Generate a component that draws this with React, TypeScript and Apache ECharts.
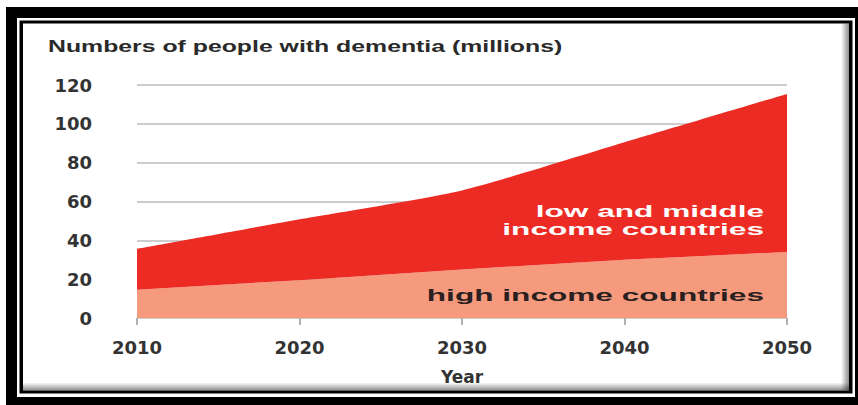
import React, { useEffect, useRef } from "react";
import * as echarts from "echarts";

const years = ["2010", "2020", "2030", "2040", "2050"];
const highIncome = [14.5, 19.5, 25, 30, 34];
const lowMiddleIncome = [21.1, 31.3, 40.7, 60.5, 81.4];
const yTicks = [0, 20, 40, 60, 80, 100, 120];

const titleText = "Numbers of people with dementia (millions)";
const lowLabel1 = "low and middle";
const lowLabel2 = "income countries";
const highLabel = "high income countries";

export default function App() {
  const ref = useRef<HTMLDivElement>(null);
  useEffect(() => {
    if (!ref.current) return;
    const chart = echarts.init(ref.current, undefined, { renderer: "svg" });
    const axisFont = "DejaVu Sans";
    const option: any = {
      animation: false,
      backgroundColor: "#ffffff",
      grid: { left: 137, right: 71, top: 85, bottom: 87 },
      xAxis: {
        type: "category",
        data: years,
        boundaryGap: false,
        name: "Year",
        nameLocation: "middle",
        nameGap: 50,
        nameTextStyle: { color: "#333", fontFamily: axisFont, fontWeight: "bold", fontSize: 17 },
        axisLine: { show: false },
        axisTick: { show: true, length: 7, alignWithLabel: true, lineStyle: { color: "#b0b0b0", width: 2 } },
        splitLine: { show: false },
        axisLabel: {
          color: "#333",
          fontFamily: axisFont,
          fontWeight: "bold",
          fontSize: 18,
          margin: 20,
        },
      },
      yAxis: {
        type: "value",
        min: yTicks[0],
        max: yTicks[yTicks.length - 1],
        interval: 20,
        axisLine: { show: false },
        axisTick: { show: false },
        splitLine: { show: true, lineStyle: { color: "#bdbdbd", width: 1.5 } },
        axisLabel: {
          color: "#333",
          fontFamily: axisFont,
          fontWeight: "bold",
          fontSize: 18,
          margin: 45,
        },
      },
      series: [
        {
          name: "high income countries",
          type: "line",
          stack: "total",
          data: highIncome,
          showSymbol: false,
          lineStyle: { width: 0 },
          areaStyle: { color: "#F69A7D", opacity: 1 },
          itemStyle: { color: "#F69A7D" },
        },
        {
          name: "low and middle income countries",
          type: "line",
          stack: "total",
          smooth: 0.2,
          data: lowMiddleIncome,
          showSymbol: false,
          lineStyle: { width: 0 },
          areaStyle: { color: "#EC2C24", opacity: 1 },
          itemStyle: { color: "#EC2C24" },
        },
      ],
      graphic: [
        { type: "rect", z: -20, shape: { x: 6, y: 7, width: 852, height: 398 }, style: { fill: "#000" } },
        { type: "rect", z: -19, shape: { x: 17, y: 18, width: 838, height: 379 }, style: { fill: "#fff" } },
        { type: "rect", z: -18, shape: { x: 19.5, y: 20.5, width: 833, height: 373 }, style: { fill: "#000" } },
        { type: "rect", z: -17, shape: { x: 23, y: 23.5, width: 826, height: 367 }, style: { fill: "#fff" } },
        {
          type: "rect",
          z: -16,
          shape: { x: 841, y: 23.5, width: 8, height: 367 },
          style: {
            fill: new echarts.graphic.LinearGradient(0, 0, 1, 0, [
              { offset: 0, color: "rgba(0,0,0,0)" },
              { offset: 1, color: "rgba(0,0,0,0.45)" },
            ]),
          },
        },
        {
          type: "rect",
          z: -16,
          shape: { x: 23, y: 382.5, width: 826, height: 8 },
          style: {
            fill: new echarts.graphic.LinearGradient(0, 0, 0, 1, [
              { offset: 0, color: "rgba(0,0,0,0)" },
              { offset: 1, color: "rgba(0,0,0,0.45)" },
            ]),
          },
        },
        {
          type: "text",
          z: 100,
          x: 48,
          y: 46,
          scaleX: 1.46,
          style: {
            text: titleText,
            fill: "#2a2a2a",
            font: "bold 17px 'Liberation Sans'",
            textAlign: "left",
            textVerticalAlign: "middle",
            align: "left",
            verticalAlign: "middle",
          },
        },
        {
          type: "text",
          z: 100,
          x: 764,
          y: 211,
          scaleX: 1.86,
          style: {
            text: lowLabel1,
            fill: "#ffffff",
            font: "bold 17px 'Liberation Sans'",
            textAlign: "right",
            textVerticalAlign: "middle",
            align: "right",
            verticalAlign: "middle",
          },
        },
        {
          type: "text",
          z: 100,
          x: 764,
          y: 229,
          scaleX: 1.86,
          style: {
            text: lowLabel2,
            fill: "#ffffff",
            font: "bold 17px 'Liberation Sans'",
            textAlign: "right",
            textVerticalAlign: "middle",
            align: "right",
            verticalAlign: "middle",
          },
        },
        {
          type: "text",
          z: 100,
          x: 764,
          y: 295,
          scaleX: 1.86,
          style: {
            text: highLabel,
            fill: "#2a2020",
            font: "bold 17px 'Liberation Sans'",
            textAlign: "right",
            textVerticalAlign: "middle",
            align: "right",
            verticalAlign: "middle",
          },
        },
      ],
    };
    chart.setOption(option);
    return () => chart.dispose();
  }, []);
  return (
    <div
      ref={ref}
      style={{ position: "fixed", left: 0, top: 0, width: 858, height: 405 }}
    />
  );
}
